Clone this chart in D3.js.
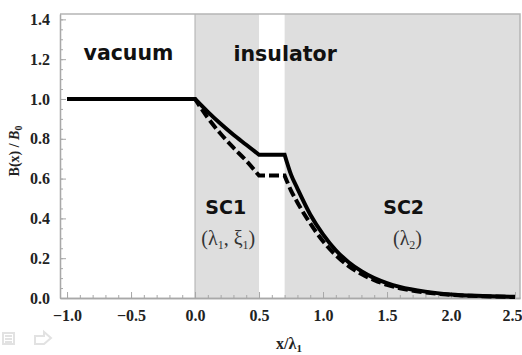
<!DOCTYPE html>
<html>
<head>
<meta charset="utf-8">
<script src="https://cdn.jsdelivr.net/npm/d3@7"></script>
<style>
  body { margin: 0; background: #fff; }
  svg { display: block; }
</style>
</head>
<body>
<svg class="chart" width="522" height="355"></svg>
<script>
// field profile B(x)/B0
// solid curve, one array per region so the corners stay sharp
const solidVacuum = [[-1.0, 1.0], [0.0, 1.0]]
const solidSC1 = [[0.0, 1.0], [0.1, 0.935], [0.2, 0.875], [0.3, 0.82], [0.4, 0.77], [0.5, 0.72]]
const solidIns = [[0.5, 0.72], [0.7, 0.72]]
const solidSC2 = [[0.7, 0.72], [0.75, 0.62], [0.8, 0.55], [0.9, 0.42], [1.0, 0.32], [1.1, 0.24],
  [1.2, 0.18], [1.3, 0.135], [1.4, 0.1], [1.5, 0.075], [1.6, 0.056], [1.8, 0.032], [2.0, 0.018],
  [2.2, 0.011], [2.5, 0.006]]

// dashed curve
const dashVacuum = [[-1.0, 1.0], [0.0, 1.0]]
const dashSC1 = [[0.0, 1.0], [0.1, 0.905], [0.2, 0.825], [0.3, 0.755], [0.4, 0.69], [0.5, 0.615]]
const dashIns = [[0.5, 0.615], [0.7, 0.615]]
const dashSC2 = [[0.7, 0.615], [0.75, 0.54], [0.8, 0.48], [0.9, 0.375], [1.0, 0.285], [1.1, 0.215],
  [1.2, 0.16], [1.3, 0.12], [1.4, 0.09], [1.5, 0.066], [1.6, 0.049], [1.8, 0.028], [2.0, 0.016],
  [2.2, 0.01], [2.5, 0.005]]

// shaded superconductor regions
const shadeStart = [0.0, 0.7]
const shadeEnd = [0.5, 2.6]

const xTicks = [-1.0, -0.5, 0.0, 0.5, 1.0, 1.5, 2.0, 2.5]
const yTicks = [0.0, 0.2, 0.4, 0.6, 0.8, 1.0, 1.2, 1.4]

const regionLabels = [
  { text: 'vacuum', x: -0.52, y: 1.195 },
  { text: 'insulator', x: 0.704, y: 1.19 },
  { text: 'SC1', x: 0.24, y: 0.42 },
  { text: 'SC2', x: 1.63, y: 0.42 }
]

const svg = d3.select('svg.chart')
const plot = { left: 60, right: 520, top: 14, bottom: 298 }

const x = d3.scaleLinear().domain([-1.055, 2.539]).range([plot.left, plot.right])
const y = d3.scaleLinear().domain([0, 1.427]).range([plot.bottom, plot.top])

// shading
svg.append('g').selectAll('rect')
  .data(shadeStart)
  .join('rect')
  .attr('x', (d) => x(d))
  .attr('y', plot.top)
  .attr('width', (d, i) => Math.min(x(shadeEnd[i]), plot.right) - x(d))
  .attr('height', plot.bottom - plot.top)
  .attr('fill', '#dedede')

// thin edge at x = 0
svg.append('line')
  .attr('x1', x(0)).attr('x2', x(0))
  .attr('y1', plot.top).attr('y2', plot.bottom)
  .attr('stroke', '#b8b8b8').attr('stroke-width', 1.2)

// frame (top and right)
svg.append('path')
  .attr('d', `M${plot.left},${plot.top}H${plot.right}V${plot.bottom}`)
  .attr('fill', 'none')
  .attr('stroke', '#b5b5b5')
  .attr('stroke-width', 1.5)

// axes, ticks point inward
const styleAxis = (g) => {
  g.selectAll('.domain').attr('stroke', '#a8a8a8').attr('stroke-width', 1.3)
  g.selectAll('.tick line').attr('stroke', '#a8a8a8').attr('stroke-width', 1)
  g.selectAll('.tick text')
    .attr('font-family', '"Liberation Serif", "DejaVu Serif", serif')
    .attr('font-weight', 'bold')
    .attr('font-size', 16)
    .attr('fill', '#222')
}

svg.append('g')
  .attr('transform', `translate(0,${plot.bottom})`)
  .call(d3.axisBottom(x).tickValues(d3.range(-1.0, 2.55, 0.1)).tickSize(-3).tickFormat('').tickSizeOuter(0))
  .call(styleAxis)
svg.append('g')
  .attr('transform', `translate(0,${plot.bottom})`)
  .call(d3.axisBottom(x).tickValues(xTicks).tickSize(-6).tickPadding(12).tickSizeOuter(0)
    .tickFormat((d) => d3.format('.1f')(d).replace('-', '\u2212')))
  .call(styleAxis)
  .call((g) => g.selectAll('.tick:last-of-type text').attr('text-anchor', 'end').attr('dx', 7))

svg.append('g')
  .attr('transform', `translate(${plot.left},0)`)
  .call(d3.axisLeft(y).tickValues(d3.range(0, 1.42, 0.05)).tickSize(-3).tickFormat('').tickSizeOuter(0))
  .call(styleAxis)
svg.append('g')
  .attr('transform', `translate(${plot.left},0)`)
  .call(d3.axisLeft(y).tickValues(yTicks).tickSize(-6).tickPadding(10).tickSizeOuter(0)
    .tickFormat(d3.format('.1f')))
  .call(styleAxis)

// curves
const line = d3.line().x((d) => x(d[0])).y((d) => y(d[1])).curve(d3.curveMonotoneX)
const joinSegments = (segs) => segs.map((s, i) => {
  const p = line(s)
  return i === 0 ? p : 'L' + p.slice(1)
}).join('')

svg.append('path')
  .attr('d', joinSegments([solidVacuum, solidSC1, solidIns, solidSC2]))
  .attr('fill', 'none')
  .attr('stroke', '#000')
  .attr('stroke-width', 4)
  .attr('stroke-linejoin', 'miter')

svg.append('path')
  .attr('d', joinSegments([dashVacuum, dashSC1, dashIns, dashSC2]))
  .attr('fill', 'none')
  .attr('stroke', '#000')
  .attr('stroke-width', 4)
  .attr('stroke-dasharray', '10,4')

// region labels
svg.append('g').selectAll('text')
  .data(regionLabels)
  .join('text')
  .attr('x', (d) => x(d.x))
  .attr('y', (d) => y(d.y))
  .attr('text-anchor', 'middle')
  .attr('font-family', '"DejaVu Sans", sans-serif')
  .attr('font-weight', 'bold')
  .attr('font-size', (d) => d.text.startsWith('SC') ? 19 : 20.5)
  .attr('fill', '#111')
  .text((d) => d.text)

const paramText = svg.append('g')
  .attr('font-family', '"Liberation Serif", "DejaVu Serif", serif')
  .attr('font-size', 20)
  .attr('fill', '#333')
  .attr('text-anchor', 'middle')

const p1 = paramText.append('text').attr('x', x(0.26)).attr('y', y(0.265))
p1.append('tspan').text('(\u03bb')
p1.append('tspan').attr('font-size', 12).attr('dy', 4).text('1')
p1.append('tspan').attr('dy', -4).text(', \u03be')
p1.append('tspan').attr('font-size', 12).attr('dy', 4).text('1')
p1.append('tspan').attr('dy', -4).text(')')

const p2 = paramText.append('text').attr('x', x(1.66)).attr('y', y(0.265))
p2.append('tspan').text('(\u03bb')
p2.append('tspan').attr('font-size', 12).attr('dy', 4).text('2')
p2.append('tspan').attr('dy', -4).text(')')

// axis titles
const xt = svg.append('text')
  .attr('x', 289)
  .attr('y', 349)
  .attr('text-anchor', 'middle')
  .attr('font-family', '"Liberation Serif", "DejaVu Serif", serif')
  .attr('font-weight', 'bold')
  .attr('font-size', 16)
  .attr('fill', '#222')
xt.append('tspan').text('x/\u03bb')
xt.append('tspan').attr('font-size', 11).attr('dy', 3).text('1')

const yt = svg.append('text')
  .attr('transform', 'translate(19,151) rotate(-90)')
  .attr('text-anchor', 'middle')
  .attr('font-family', '"Liberation Serif", "DejaVu Serif", serif')
  .attr('font-weight', 'bold')
  .attr('font-size', 14)
  .attr('fill', '#222')
yt.append('tspan').text('B(x) / ')
yt.append('tspan').attr('font-style', 'italic').text('B')
yt.append('tspan').attr('font-size', 10).attr('dy', 3).text('0')

// faint toolbar icons below the plot
const icons = svg.append('g').attr('fill', 'none').attr('stroke', '#e2e2e2').attr('stroke-width', 2)
icons.append('rect').attr('x', 3).attr('y', 333).attr('width', 11).attr('height', 11)
icons.append('path').attr('d', 'M5,336H12M5,339H12M5,342H12')
icons.append('path').attr('d', 'M35,344V336H44V332L51,338L44,344Z')
</script>
</body>
</html>
